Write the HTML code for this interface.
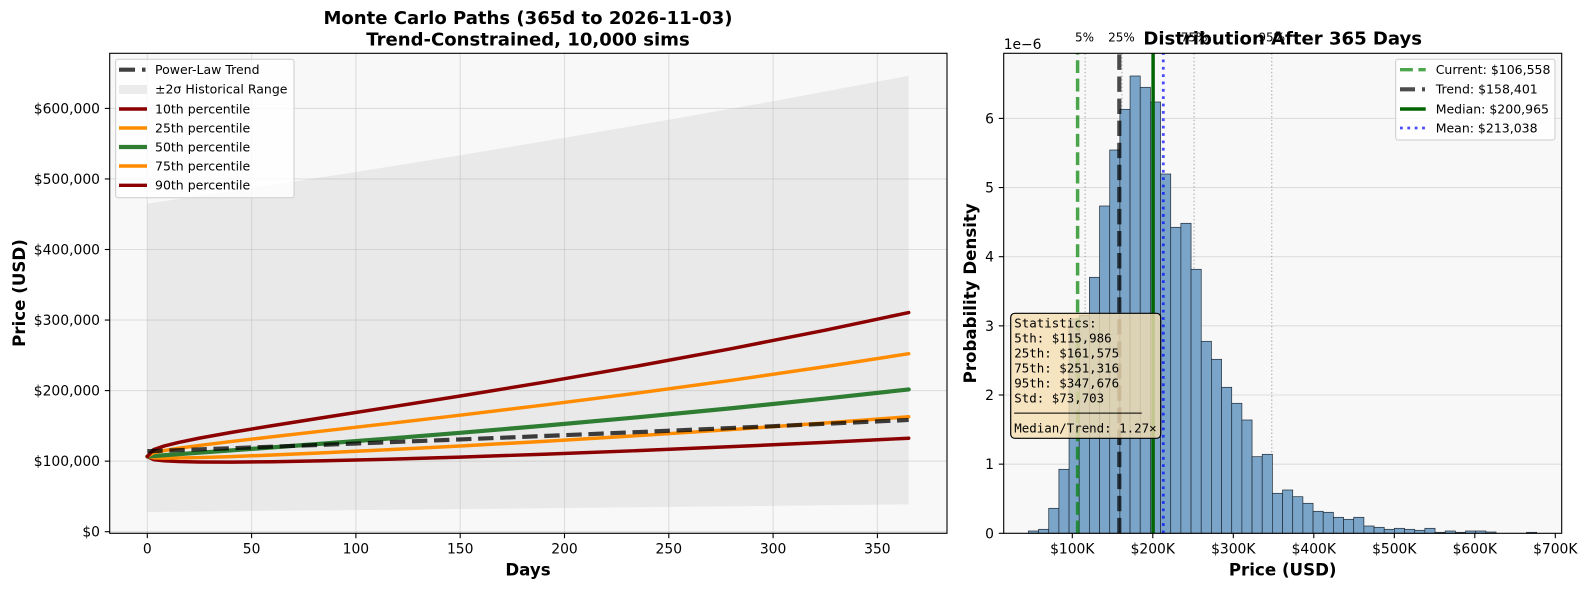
<!DOCTYPE html>
<html><head><meta charset="utf-8">
<style>
html,body{margin:0;padding:0;background:#fff;}
svg{display:block;}
text{font-family:"DejaVu Sans","Liberation Sans",sans-serif;fill:#000;}
.mono{font-family:"DejaVu Sans Mono","Liberation Mono",monospace;}
.tick{font-size:13.89px;}
.leg{font-size:12.5px;}
.ttl{font-size:18.06px;font-weight:bold;}
.axl{font-size:16.67px;font-weight:bold;}
</style></head>
<body>
<svg width="1589" height="590" viewBox="0 0 1589 590" xmlns="http://www.w3.org/2000/svg">
<rect x="0" y="0" width="1589" height="590" fill="#ffffff"/>

<!-- ================= LEFT AXES ================= -->
<rect x="109.7" y="53.3" width="837.3" height="480" fill="#f8f8f8"/>
<!-- historical band -->
<polygon fill="#e9e9e9" points="147.3,203.6 251.6,188.0 355.9,172.0 460.2,155.2 564.5,137.8 668.8,119.8 773.1,101.2 908.69,75.8 908.69,504.33 773.1,505.85 564.5,508.05 355.9,510.1 147.3,512.0"/>
<!-- grid -->
<g stroke="#b0b0b0" stroke-opacity="0.35" stroke-width="1.1">
<line x1="147.3" y1="53.3" x2="147.3" y2="533.3"/>
<line x1="251.6" y1="53.3" x2="251.6" y2="533.3"/>
<line x1="355.9" y1="53.3" x2="355.9" y2="533.3"/>
<line x1="460.2" y1="53.3" x2="460.2" y2="533.3"/>
<line x1="564.5" y1="53.3" x2="564.5" y2="533.3"/>
<line x1="668.8" y1="53.3" x2="668.8" y2="533.3"/>
<line x1="773.1" y1="53.3" x2="773.1" y2="533.3"/>
<line x1="877.4" y1="53.3" x2="877.4" y2="533.3"/>
<line x1="109.7" y1="531.7" x2="947" y2="531.7"/>
<line x1="109.7" y1="461.15" x2="947" y2="461.15"/>
<line x1="109.7" y1="390.6" x2="947" y2="390.6"/>
<line x1="109.7" y1="320.05" x2="947" y2="320.05"/>
<line x1="109.7" y1="249.5" x2="947" y2="249.5"/>
<line x1="109.7" y1="178.95" x2="947" y2="178.95"/>
<line x1="109.7" y1="108.4" x2="947" y2="108.4"/>
</g>
<!-- percentile lines -->
<g fill="none" stroke-linejoin="round" stroke-linecap="round">
<polyline stroke="#8b0000" stroke-width="3.47" points="147.3,456.52 153.56,459.60 163.99,460.78 178.59,461.55 199.45,462.0 230.74,462.11 272.46,461.72 324.61,460.78 387.19,459.24 460.2,457.08 543.64,454.23 637.51,450.64 731.38,446.67 825.25,442.35 908.69,438.21"/>
<polyline stroke="#ff8c00" stroke-width="3.47" points="147.3,456.52 153.56,457.86 163.99,458.11 178.59,458.01 199.45,457.56 230.74,456.59 272.46,455.01 324.61,452.75 387.19,449.77 460.2,446.0 543.64,441.34 637.51,435.67 731.38,429.56 825.25,423.0 908.69,416.77"/>
<polyline stroke="#2e7d32" stroke-width="4.17" points="147.3,456.52 153.56,456.02 163.99,455.24 178.59,454.17 199.45,452.67 230.74,450.42 272.46,447.38 324.61,443.50 387.19,438.69 460.2,432.82 543.64,425.75 637.51,417.30 731.38,408.25 825.25,398.58 908.69,389.42"/>
<polyline stroke="#ff8c00" stroke-width="3.47" points="147.3,456.52 153.56,452.80 163.99,450.61 178.59,448.27 199.45,445.44 230.74,441.57 272.46,436.72 324.61,430.80 387.19,423.68 460.2,415.19 543.64,405.08 637.51,393.08 731.38,380.29 825.25,366.64 908.69,353.70"/>
<polyline stroke="#8b0000" stroke-width="3.47" points="147.3,456.52 153.56,449.67 163.99,446.06 178.59,442.41 199.45,438.12 230.74,432.50 272.46,425.61 324.61,417.37 387.19,407.59 460.2,396.01 543.64,382.29 637.51,366.02 731.38,348.70 825.25,330.15 908.69,312.53"/>
</g>
<!-- trend -->
<polyline fill="none" stroke="#000" stroke-opacity="0.75" stroke-width="4.17" stroke-dasharray="15.4 6.67" points="147.3,451.27 251.6,447.47 355.9,443.53 460.2,439.43 564.5,435.17 668.8,430.76 773.1,426.18 908.69,419.97"/>
<!-- spines -->
<rect x="109.7" y="53.3" width="837.3" height="480" fill="none" stroke="#000" stroke-width="1.1"/>
<!-- ticks -->
<g stroke="#000" stroke-width="1.1">
<line x1="104.8" y1="531.7" x2="109.7" y2="531.7"/>
<line x1="104.8" y1="461.15" x2="109.7" y2="461.15"/>
<line x1="104.8" y1="390.6" x2="109.7" y2="390.6"/>
<line x1="104.8" y1="320.05" x2="109.7" y2="320.05"/>
<line x1="104.8" y1="249.5" x2="109.7" y2="249.5"/>
<line x1="104.8" y1="178.95" x2="109.7" y2="178.95"/>
<line x1="104.8" y1="108.4" x2="109.7" y2="108.4"/>
<line x1="147.3" y1="533.3" x2="147.3" y2="538.2"/>
<line x1="251.6" y1="533.3" x2="251.6" y2="538.2"/>
<line x1="355.9" y1="533.3" x2="355.9" y2="538.2"/>
<line x1="460.2" y1="533.3" x2="460.2" y2="538.2"/>
<line x1="564.5" y1="533.3" x2="564.5" y2="538.2"/>
<line x1="668.8" y1="533.3" x2="668.8" y2="538.2"/>
<line x1="773.1" y1="533.3" x2="773.1" y2="538.2"/>
<line x1="877.4" y1="533.3" x2="877.4" y2="538.2"/>
</g>
<g class="tick" text-anchor="end">
<text x="100" y="536.7">$0</text>
<text x="100" y="466.15">$100,000</text>
<text x="100" y="395.6">$200,000</text>
<text x="100" y="325.05">$300,000</text>
<text x="100" y="254.5">$400,000</text>
<text x="100" y="183.95">$500,000</text>
<text x="100" y="113.4">$600,000</text>
</g>
<g class="tick" text-anchor="middle">
<text x="147.3" y="553.5">0</text>
<text x="251.6" y="553.5">50</text>
<text x="355.9" y="553.5">100</text>
<text x="460.2" y="553.5">150</text>
<text x="564.5" y="553.5">200</text>
<text x="668.8" y="553.5">250</text>
<text x="773.1" y="553.5">300</text>
<text x="877.4" y="553.5">350</text>
</g>
<!-- titles / labels -->
<text class="ttl" x="528" y="24" text-anchor="middle">Monte Carlo Paths (365d to 2026-11-03)</text>
<text class="ttl" x="528" y="45.3" text-anchor="middle">Trend-Constrained, 10,000 sims</text>
<text class="axl" x="528" y="575.5" text-anchor="middle">Days</text>
<text class="axl" transform="translate(25,293) rotate(-90)" text-anchor="middle">Price (USD)</text>
<!-- left legend -->
<rect x="115.7" y="59.3" width="178.3" height="138.4" rx="2.5" fill="#ffffff" fill-opacity="0.8" stroke="#cccccc" stroke-width="1"/>
<line x1="119" y1="69.7" x2="145.5" y2="69.7" stroke="#000" stroke-opacity="0.75" stroke-width="4.17" stroke-dasharray="16 7"/>
<rect x="119" y="85" width="28" height="9" fill="#ebebeb"/>
<line x1="119" y1="109" x2="147" y2="109" stroke="#8b0000" stroke-width="3.47"/>
<line x1="119" y1="128" x2="147" y2="128" stroke="#ff8c00" stroke-width="3.47"/>
<line x1="119" y1="147" x2="147" y2="147" stroke="#2e7d32" stroke-width="4.17"/>
<line x1="119" y1="166" x2="147" y2="166" stroke="#ff8c00" stroke-width="3.47"/>
<line x1="119" y1="185.3" x2="147" y2="185.3" stroke="#8b0000" stroke-width="3.47"/>
<g class="leg">
<text x="155" y="74">Power-Law Trend</text>
<text x="155" y="93.6">±2σ Historical Range</text>
<text x="155" y="113.3">10th percentile</text>
<text x="155" y="132.3">25th percentile</text>
<text x="155" y="151.3">50th percentile</text>
<text x="155" y="170.3">75th percentile</text>
<text x="155" y="189.6">90th percentile</text>
</g>

<!-- ================= RIGHT AXES ================= -->
<rect x="1003.7" y="53.3" width="558" height="480" fill="#f8f8f8"/>
<g stroke="#b0b0b0" stroke-opacity="0.35" stroke-width="1.1">
<line x1="1003.7" y1="464.15" x2="1561.7" y2="464.15"/>
<line x1="1003.7" y1="395.0" x2="1561.7" y2="395.0"/>
<line x1="1003.7" y1="325.85" x2="1561.7" y2="325.85"/>
<line x1="1003.7" y1="256.7" x2="1561.7" y2="256.7"/>
<line x1="1003.7" y1="187.55" x2="1561.7" y2="187.55"/>
<line x1="1003.7" y1="118.4" x2="1561.7" y2="118.4"/>
</g>
<!-- percentile dotted lines -->
<g stroke="#808080" stroke-opacity="0.5" stroke-width="1.39" stroke-dasharray="1.39 2.29">
<line x1="1085.2" y1="533.3" x2="1085.2" y2="53.3"/>
<line x1="1121.9" y1="533.3" x2="1121.9" y2="53.3"/>
<line x1="1194.1" y1="533.3" x2="1194.1" y2="53.3"/>
<line x1="1271.7" y1="533.3" x2="1271.7" y2="53.3"/>
</g>
<!-- histogram -->
<g fill="#7ba5c8" stroke="#1e2a36" stroke-width="0.7">
<rect x="1028.40" y="531.0" width="10.17" height="2.3"/>
<rect x="1038.57" y="529.3" width="10.17" height="4.0"/>
<rect x="1048.73" y="508.3" width="10.17" height="25.0"/>
<rect x="1058.90" y="469.3" width="10.17" height="64.0"/>
<rect x="1069.06" y="319.0" width="10.17" height="214.3"/>
<rect x="1079.23" y="315.5" width="10.17" height="217.8"/>
<rect x="1089.40" y="277.3" width="10.17" height="256.0"/>
<rect x="1099.56" y="206.0" width="10.17" height="327.3"/>
<rect x="1109.73" y="150.0" width="10.17" height="383.3"/>
<rect x="1119.89" y="109.3" width="10.17" height="424.0"/>
<rect x="1130.06" y="76.0" width="10.17" height="457.3"/>
<rect x="1140.23" y="87.3" width="10.17" height="446.0"/>
<rect x="1150.39" y="102.0" width="10.17" height="431.3"/>
<rect x="1160.56" y="174.0" width="10.17" height="359.3"/>
<rect x="1170.72" y="227.3" width="10.17" height="306.0"/>
<rect x="1180.89" y="223.3" width="10.17" height="310.0"/>
<rect x="1191.06" y="269.3" width="10.17" height="264.0"/>
<rect x="1201.22" y="341.3" width="10.17" height="192.0"/>
<rect x="1211.39" y="359.3" width="10.17" height="174.0"/>
<rect x="1221.55" y="387.3" width="10.17" height="146.0"/>
<rect x="1231.72" y="403.3" width="10.17" height="130.0"/>
<rect x="1241.89" y="420.0" width="10.17" height="113.3"/>
<rect x="1252.05" y="456.7" width="10.17" height="76.6"/>
<rect x="1262.22" y="454.3" width="10.17" height="79.0"/>
<rect x="1272.38" y="493.3" width="10.17" height="40.0"/>
<rect x="1282.55" y="490.0" width="10.17" height="43.3"/>
<rect x="1292.72" y="496.7" width="10.17" height="36.6"/>
<rect x="1302.88" y="503.3" width="10.17" height="30.0"/>
<rect x="1313.05" y="511.3" width="10.17" height="22.0"/>
<rect x="1323.21" y="512.3" width="10.17" height="21.0"/>
<rect x="1333.38" y="517.3" width="10.17" height="16.0"/>
<rect x="1343.55" y="519.3" width="10.17" height="14.0"/>
<rect x="1353.71" y="517.3" width="10.17" height="16.0"/>
<rect x="1363.88" y="526.0" width="10.17" height="7.3"/>
<rect x="1374.04" y="527.3" width="10.17" height="6.0"/>
<rect x="1384.21" y="529.3" width="10.17" height="4.0"/>
<rect x="1394.38" y="528.3" width="10.17" height="5.0"/>
<rect x="1404.54" y="529.3" width="10.17" height="4.0"/>
<rect x="1414.71" y="530.3" width="10.17" height="3.0"/>
<rect x="1424.87" y="528.3" width="10.17" height="5.0"/>
<rect x="1435.04" y="532.3" width="10.17" height="1.0"/>
<rect x="1445.21" y="531.0" width="10.17" height="2.3"/>
<rect x="1455.37" y="532.3" width="10.17" height="1.0"/>
<rect x="1465.54" y="531.0" width="10.17" height="2.3"/>
<rect x="1475.70" y="531.0" width="10.17" height="2.3"/>
<rect x="1485.87" y="532.0" width="10.17" height="1.3"/>
<rect x="1526.53" y="532.3" width="10.17" height="1.0"/>
</g>
<!-- vertical reference lines -->
<line x1="1077.6" y1="533.3" x2="1077.6" y2="53.3" stroke="#008000" stroke-opacity="0.7" stroke-width="3.47" stroke-dasharray="12.85 5.56"/>
<line x1="1119.3" y1="533.3" x2="1119.3" y2="53.3" stroke="#000" stroke-opacity="0.7" stroke-width="4.17" stroke-dasharray="15.4 6.67"/>
<line x1="1153.1" y1="533.3" x2="1153.1" y2="53.3" stroke="#006400" stroke-width="3.47"/>
<line x1="1163.3" y1="533.3" x2="1163.3" y2="53.3" stroke="#0000ff" stroke-opacity="0.7" stroke-width="2.78" stroke-dasharray="2.78 4.58"/>
<!-- spines -->
<rect x="1003.7" y="53.3" width="558" height="480" fill="none" stroke="#000" stroke-width="1.1"/>
<g stroke="#000" stroke-width="1.1">
<line x1="998.8" y1="533.3" x2="1003.7" y2="533.3"/>
<line x1="998.8" y1="464.15" x2="1003.7" y2="464.15"/>
<line x1="998.8" y1="395.0" x2="1003.7" y2="395.0"/>
<line x1="998.8" y1="325.85" x2="1003.7" y2="325.85"/>
<line x1="998.8" y1="256.7" x2="1003.7" y2="256.7"/>
<line x1="998.8" y1="187.55" x2="1003.7" y2="187.55"/>
<line x1="998.8" y1="118.4" x2="1003.7" y2="118.4"/>
<line x1="1072.3" y1="533.3" x2="1072.3" y2="538.2"/>
<line x1="1152.8" y1="533.3" x2="1152.8" y2="538.2"/>
<line x1="1233.3" y1="533.3" x2="1233.3" y2="538.2"/>
<line x1="1313.8" y1="533.3" x2="1313.8" y2="538.2"/>
<line x1="1394.3" y1="533.3" x2="1394.3" y2="538.2"/>
<line x1="1474.8" y1="533.3" x2="1474.8" y2="538.2"/>
<line x1="1555.3" y1="533.3" x2="1555.3" y2="538.2"/>
</g>
<g class="tick" text-anchor="end">
<text x="994" y="538.3">0</text>
<text x="994" y="469.15">1</text>
<text x="994" y="400.0">2</text>
<text x="994" y="330.85">3</text>
<text x="994" y="261.7">4</text>
<text x="994" y="192.55">5</text>
<text x="994" y="123.4">6</text>
</g>
<g class="tick" text-anchor="middle">
<text x="1072.3" y="553.5">$100K</text>
<text x="1152.8" y="553.5">$200K</text>
<text x="1233.3" y="553.5">$300K</text>
<text x="1313.8" y="553.5">$400K</text>
<text x="1394.3" y="553.5">$500K</text>
<text x="1474.8" y="553.5">$600K</text>
<text x="1555.3" y="553.5">$700K</text>
</g>
<text class="tick" x="1003.7" y="49">1e−6</text>
<!-- percentile labels -->
<g font-size="12px" text-anchor="middle">
<text x="1084.5" y="41.5">5%</text>
<text x="1121.5" y="41.5">25%</text>
<text x="1194.1" y="41.5">75%</text>
<text x="1271.7" y="41.5">95%</text>
</g>
<text class="ttl" x="1282.7" y="44.5" text-anchor="middle">Distribution After 365 Days</text>
<text class="axl" x="1282.7" y="575.5" text-anchor="middle">Price (USD)</text>
<text class="axl" transform="translate(976,293.3) rotate(-90)" text-anchor="middle">Probability Density</text>
<!-- stats box -->
<rect x="1010.7" y="313.3" width="150" height="125" rx="4" fill="#f5deb3" fill-opacity="0.8" stroke="#000" stroke-width="1.2"/>
<g class="mono" font-size="12.45px">
<text class="mono" x="1014.3" y="327.7">Statistics:</text>
<text class="mono" x="1014.3" y="342.7">5th: $115,986</text>
<text class="mono" x="1014.3" y="357.7">25th: $161,575</text>
<text class="mono" x="1014.3" y="372.7">75th: $251,316</text>
<text class="mono" x="1014.3" y="387.7">95th: $347,676</text>
<text class="mono" x="1014.3" y="402.7">Std: $73,703</text>
<text class="mono" x="1014.3" y="417.7">─────────────────</text>
<text class="mono" x="1014.3" y="432.7">Median/Trend: 1.27×</text>
</g>
<!-- right legend -->
<rect x="1395.7" y="59.3" width="159.3" height="80.7" rx="2.5" fill="#ffffff" fill-opacity="0.8" stroke="#cccccc" stroke-width="1"/>
<line x1="1400" y1="69.7" x2="1425.7" y2="69.7" stroke="#008000" stroke-opacity="0.7" stroke-width="3.47" stroke-dasharray="12.85 5.56"/>
<line x1="1400" y1="89.3" x2="1425" y2="89.3" stroke="#000" stroke-opacity="0.7" stroke-width="4.17" stroke-dasharray="15 7"/>
<line x1="1400" y1="109" x2="1425.7" y2="109" stroke="#006400" stroke-width="3.47"/>
<line x1="1400" y1="128" x2="1425.7" y2="128" stroke="#0000ff" stroke-opacity="0.7" stroke-width="2.78" stroke-dasharray="2.78 4.58"/>
<g class="leg">
<text x="1435.7" y="74">Current: $106,558</text>
<text x="1435.7" y="93.6">Trend: $158,401</text>
<text x="1435.7" y="113.3">Median: $200,965</text>
<text x="1435.7" y="132.3">Mean: $213,038</text>
</g>
</svg>
</body></html>
